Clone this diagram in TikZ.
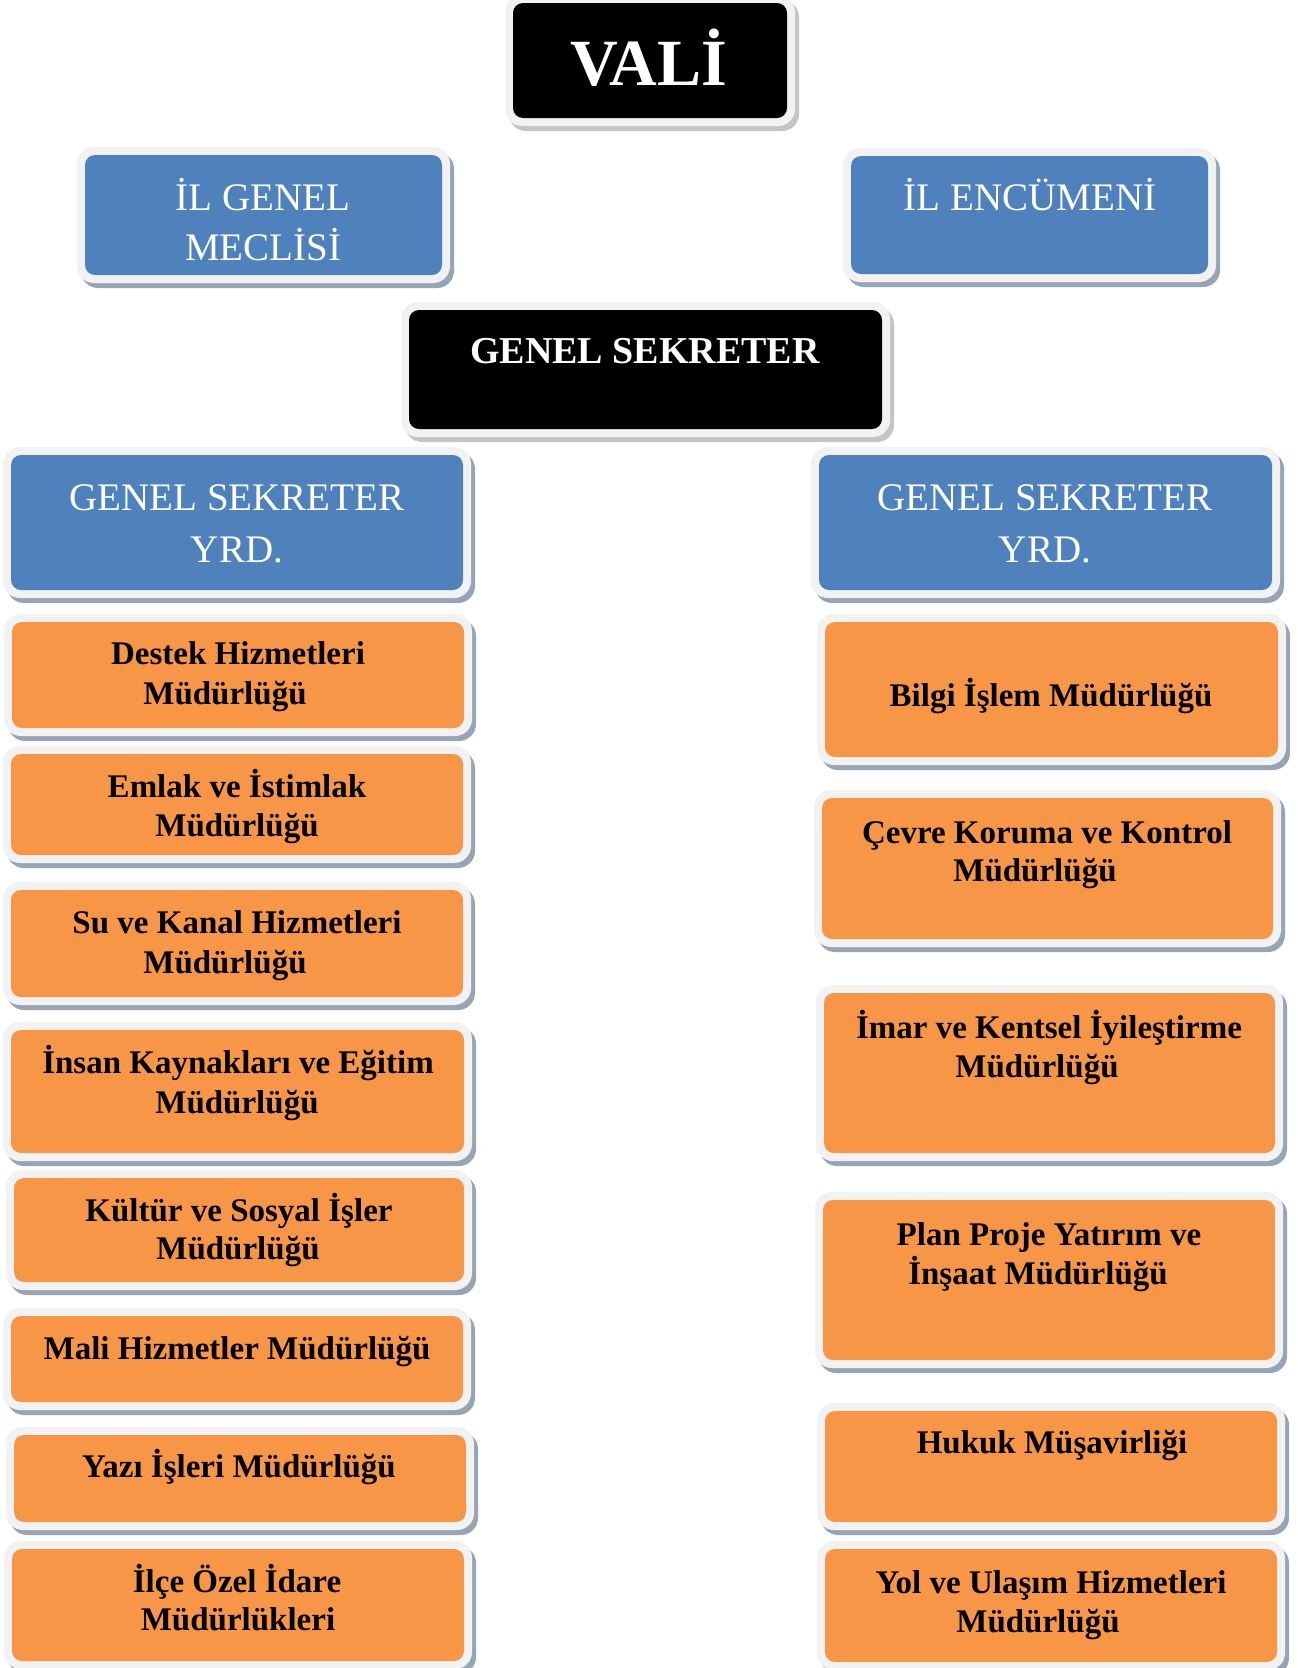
\documentclass[tikz,border=0pt]{standalone}
\usepackage{fontspec}
\setmainfont{Liberation Serif}
\usetikzlibrary{fit}
\definecolor{bluefill}{HTML}{4F81BD}
\definecolor{orangefill}{HTML}{F79646}
\definecolor{framecol}{HTML}{F2F2F2}
\definecolor{shadowblue}{HTML}{97A4B6}
\definecolor{shadowgray}{HTML}{C4C4C4}
\tikzset{
  innerbox/.style={inner sep=0pt, outer sep=0pt, rounded corners=10pt},
  txt/.style={inner sep=0pt, outer sep=0pt, anchor=base, align=center},
  otxt/.style={txt, font=\fontsize{33}{38}\selectfont\bfseries, text=black},
  btxt/.style={txt, font=\fontsize{39}{50}\selectfont, text=white},
}
% #1 name, #2 x1, #3 y1, #4 x2, #5 y2, #6 fill, #7 shadow
\newcommand\orgbox[7]{%
  \fill[#7, rounded corners=17pt] (#2-4,#3-3) rectangle (#4+12,#5+13);
  \fill[framecol, rounded corners=17pt] (#2-8,#3-8) rectangle (#4+8,#5+8);
  \node[innerbox, fill=#6, fit={(#2,#3) (#4,#5)}] (#1) {};
}
\begin{document}
\begin{tikzpicture}[x=1pt,y=-1pt]
\useasboundingbox[fill=white] (0,0) rectangle (1304,1668);

% top
\orgbox{vali}{513}{3}{787}{118}{black}{shadowgray}
\node[txt, font=\fontsize{66}{70}\selectfont\bfseries, text=white] (valit) at (649,85) {VALİ};

\orgbox{igm}{85}{155}{442}{275}{bluefill}{shadowblue}
\node[btxt] (igmt1) at (263,210) {İL GENEL};
\node[btxt] (igmt2) at (263,260) {MECLİSİ};

\orgbox{ien}{851}{156}{1208}{274}{bluefill}{shadowblue}
\node[btxt] (ient) at (1030,210) {İL ENCÜMENİ};

\orgbox{gs}{409}{310}{882}{429}{black}{shadowgray}
\node[txt, font=\fontsize{38}{44}\selectfont\bfseries, text=white] (gst) at (645,363) {GENEL SEKRETER};

\orgbox{gsyl}{11}{455}{463}{590}{bluefill}{shadowblue}
\node[btxt] (gsylt1) at (237,510) {GENEL SEKRETER};
\node[btxt] (gsylt2) at (237,562) {YRD.};

\orgbox{gsyr}{819}{455}{1272}{590}{bluefill}{shadowblue}
\node[btxt] (gsyrt1) at (1045,510) {GENEL SEKRETER};
\node[btxt] (gsyrt2) at (1045,562) {YRD.};

% left column
\orgbox{l1}{12}{622}{464}{728}{orangefill}{shadowblue}
\node[otxt] (l1a) at (238,664) {Destek Hizmetleri};
\node[otxt] (l1b) at (225,704) {Müdürlüğü};

\orgbox{l2}{11}{754}{463}{855}{orangefill}{shadowblue}
\node[otxt] (l2a) at (237,797) {Emlak ve İstimlak};
\node[otxt] (l2b) at (237,836) {Müdürlüğü};

\orgbox{l3}{11}{890}{463}{997}{orangefill}{shadowblue}
\node[otxt] (l3a) at (237,933) {Su ve Kanal Hizmetleri};
\node[otxt] (l3b) at (225,973) {Müdürlüğü};

\orgbox{l4}{11}{1030}{464}{1153}{orangefill}{shadowblue}
\node[otxt] (l4a) at (238,1073) {İnsan Kaynakları ve Eğitim};
\node[otxt] (l4b) at (237,1113) {Müdürlüğü};

\orgbox{l5}{14}{1178}{464}{1282}{orangefill}{shadowblue}
\node[otxt] (l5a) at (239,1221) {Kültür ve Sosyal İşler};
\node[otxt] (l5b) at (238,1259) {Müdürlüğü};

\orgbox{l6}{11}{1316}{463}{1402}{orangefill}{shadowblue}
\node[otxt] (l6a) at (237,1359) {Mali Hizmetler Müdürlüğü};

\orgbox{l7}{14}{1435}{466}{1522}{orangefill}{shadowblue}
\node[otxt] (l7a) at (239,1477) {Yazı İşleri Müdürlüğü};

\orgbox{l8}{12}{1549}{464}{1661}{orangefill}{shadowblue}
\node[otxt] (l8a) at (237,1592) {İlçe Özel İdare};
\node[otxt] (l8b) at (238,1630) {Müdürlükleri};

% right column
\orgbox{r1}{825}{622}{1278}{757}{orangefill}{shadowblue}
\node[otxt] (r1a) at (1051,706) {Bilgi İşlem Müdürlüğü};

\orgbox{r2}{822}{798}{1273}{939}{orangefill}{shadowblue}
\node[otxt] (r2a) at (1047,843) {Çevre Koruma ve Kontrol};
\node[otxt] (r2b) at (1035,881) {Müdürlüğü};

\orgbox{r3}{824}{993}{1275}{1153}{orangefill}{shadowblue}
\node[otxt] (r3a) at (1049,1038) {İmar ve Kentsel İyileştirme};
\node[otxt] (r3b) at (1037,1077) {Müdürlüğü};

\orgbox{r4}{823}{1200}{1275}{1360}{orangefill}{shadowblue}
\node[otxt] (r4a) at (1049,1245) {Plan Proje Yatırım ve};
\node[otxt] (r4b) at (1038,1284) {İnşaat Müdürlüğü};

\orgbox{r5}{825}{1411}{1277}{1522}{orangefill}{shadowblue}
\node[otxt] (r5a) at (1052,1453) {Hukuk Müşavirliği};

\orgbox{r6}{825}{1549}{1277}{1662}{orangefill}{shadowblue}
\node[otxt] (r6a) at (1051,1593) {Yol ve Ulaşım Hizmetleri};
\node[otxt] (r6b) at (1038,1632) {Müdürlüğü};
\end{tikzpicture}
\end{document}
